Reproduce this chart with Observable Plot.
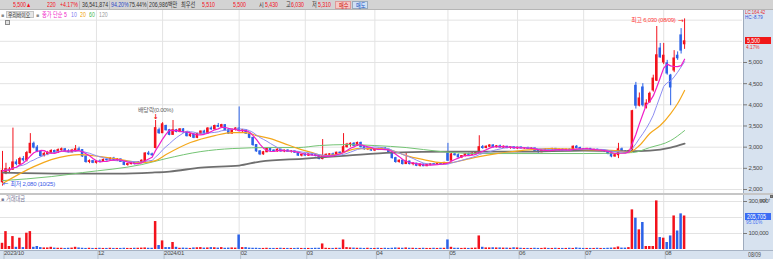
<!DOCTYPE html>
<html><head><meta charset="utf-8">
<script src="https://cdn.jsdelivr.net/npm/d3@7"></script>
<script src="https://cdn.jsdelivr.net/npm/@observablehq/plot@0.6"></script>
<style>
body{margin:0;background:#fff;}
#wrap{position:relative;width:773px;height:259px;overflow:hidden;background:#fff;font-family:'Liberation Sans','Noto Sans CJK KR',sans-serif;font-size:6.5px;}
.a{position:absolute;white-space:nowrap;line-height:8px;}
.s{display:inline-block;transform:scaleX(0.8);transform-origin:0 50%;}
#wrap svg text{letter-spacing:-0.25px;}
</style></head>
<body><div id="wrap"></div>
<script>
// ---- data ----
const opens = [2170,2380,2440,2470,2640,2600,2720,2690,2860,3080,
2990,2890,2790,2840,2860,2910,2870,2930,2950,2900,
2880,2900,2950,2930,2780,2650,2670,2630,2660,2650,
2700,2690,2730,2700,2710,2650,2580,2600,2630,2600,
2640,2660,2850,2830,2980,3400,3330,3500,3400,3290,
3400,3360,3420,3350,3260,3300,3220,3310,3370,3320,
3440,3420,3500,3480,3520,3400,3320,3410,3440,3380,
3400,3320,3220,3050,2900,2830,2880,2960,2920,2900,
2940,2900,2920,2890,2900,2870,2800,2820,2800,2830,
2810,2790,2720,2780,2820,2830,2810,2870,2860,3000,
3060,3080,3030,3100,3000,2950,2970,2920,2950,2940,
2970,2940,2870,2740,2650,2680,2600,2660,2600,2610,
2560,2590,2550,2580,2600,2590,2610,2600,2850,2680,
2830,2810,2760,2790,2830,2820,2850,2860,3000,2980,
3010,3040,3000,3020,2990,3010,2980,3000,2970,2990,
2970,2980,2960,2970,2910,2880,2920,2940,2930,2960,
2930,2940,2920,2940,2930,3010,2980,2950,2940,2960,
2930,2940,2910,2920,2900,2840,2780,2810,2950,2900,
2860,2910,4450,3980,4410,3930,4060,4340,4570,5330,
5000,4980,4690,4810,5160,5640,5430];
const highs = [2900,2620,2520,3450,2700,2760,2780,2900,3320,3120,
3040,2920,2880,2900,2940,2930,2960,2980,2970,2940,
2950,3040,3000,2940,2800,2700,2690,2680,2700,2720,
2740,2750,2760,2730,2720,2660,2620,2650,2640,2660,
2700,2870,2900,2860,3630,3450,3580,3520,3420,3630,
3420,3440,3440,3360,3320,3320,3330,3380,3400,3460,
3480,3520,3560,3540,3530,3420,3430,3460,3950,3420,
3410,3330,3230,3060,2920,2900,2980,2980,2940,2960,
2950,2930,2940,2920,2910,2880,2830,2850,2840,2850,
2830,2800,3180,2840,2850,2860,2880,2890,3320,3090,
3100,3110,3120,3120,3020,2990,2990,2970,2980,2990,
2990,2950,2880,2760,2700,2690,2860,2670,2630,2620,
2600,2600,2600,2610,2610,2620,2630,2640,3090,2860,
2870,2840,2800,2850,2860,2870,2880,3270,3040,3030,
3060,3060,3040,3050,3030,3020,3010,3010,3000,3010,
2990,3000,2990,2980,2920,2930,2960,2960,2970,2970,
2950,2960,2950,2960,3030,3040,3000,2970,2970,2970,
2950,2950,2940,2930,2910,2860,2830,3090,2980,2920,
2930,3870,4530,4280,4500,4120,4300,4700,5850,5450,
5450,5050,4720,5280,5250,5800,6030];
const lows = [2080,2350,2400,2450,2560,2560,2650,2650,2840,2960,
2870,2760,2770,2800,2840,2850,2850,2890,2880,2860,
2860,2880,2910,2760,2620,2610,2610,2600,2630,2640,
2670,2680,2680,2660,2640,2560,2550,2580,2580,2590,
2620,2640,2800,2780,2960,3300,3320,3380,3270,3280,
3340,3340,3330,3240,3230,3200,3200,3290,3300,3310,
3400,3410,3460,3440,3380,3300,3310,3380,3360,3330,
3300,3200,3020,2880,2800,2810,2870,2900,2880,2880,
2880,2870,2880,2860,2850,2780,2770,2790,2780,2790,
2770,2700,2700,2760,2790,2800,2800,2840,2850,2980,
3000,3010,3020,2980,2930,2920,2900,2900,2920,2930,
2920,2850,2720,2620,2620,2580,2590,2580,2560,2540,
2530,2540,2540,2560,2570,2570,2580,2590,2660,2670,
2790,2740,2730,2770,2800,2810,2830,2850,2950,2960,
2990,2980,2980,2980,2970,2960,2950,2950,2950,2960,
2950,2950,2940,2900,2860,2870,2900,2910,2920,2920,
2910,2910,2900,2920,2920,2960,2940,2920,2920,2920,
2900,2900,2890,2880,2820,2750,2760,2730,2880,2850,
2850,2890,3900,3950,3950,3900,4040,4300,4550,5100,
4950,4700,3980,4760,5050,5200,5310];
const closes = [2440,2480,2470,2640,2600,2720,2690,2860,3080,2990,
2890,2790,2840,2860,2910,2870,2930,2950,2900,2880,
2920,2950,2930,2780,2650,2670,2630,2660,2650,2700,
2690,2730,2700,2710,2650,2580,2600,2630,2600,2640,
2680,2850,2830,2810,3450,3330,3540,3400,3290,3400,
3360,3420,3350,3260,3300,3220,3310,3370,3320,3440,
3420,3500,3480,3520,3400,3320,3410,3440,3380,3400,
3320,3220,3050,2900,2830,2880,2960,2920,2900,2940,
2900,2920,2890,2900,2870,2800,2820,2800,2830,2810,
2790,2720,2780,2820,2830,2810,2870,2860,3000,3060,
3080,3030,3100,3000,2950,2970,2920,2950,2940,2970,
2940,2870,2740,2650,2680,2600,2660,2600,2610,2560,
2590,2550,2580,2600,2590,2610,2600,2630,2680,2830,
2810,2760,2790,2830,2820,2850,2860,3000,2980,3010,
3040,3000,3020,2990,3010,2980,3000,2970,2990,2970,
2980,2960,2970,2910,2880,2920,2940,2930,2960,2930,
2940,2920,2940,2930,3010,2980,2950,2940,2960,2930,
2940,2910,2920,2900,2840,2780,2810,2950,2900,2860,
2910,3850,3980,4150,3990,4030,4260,4620,5170,5120,
5160,4740,4410,5095,5100,5280,5500];
// 거래대금 (백만)
const volumes = [35000,108000,15000,77000,10000,67000,8000,98000,108000,10000,15000,8000,6000,6000,10000,
5000,4000,4000,3000,4000,5000,10000,6000,4000,3000,4000,3000,3000,4000,3000,3000,4000,3000,3000,3000,4000,3000,3000,4000,4000,5000,6000,4000,4000,
171000,21000,50000,8000,8000,40000,10000,
4000,5000,4000,3000,6000,7000,8000,5000,6000,8000,7000,5000,8000,4000,5000,6000,5000,
87000,8000,8000,
5000,4000,4000,3000,3000,4000,3000,3000,3000,4000,3000,3000,3000,3000,4000,3000,3000,3000,3000,4000,4000,
31000,
4000,3000,3000,4000,4000,
56000,
8000,6000,5000,4000,4000,3000,4000,3000,3000,4000,3000,4000,3000,4000,6000,5000,4000,6000,4000,4000,3000,3000,4000,3000,3000,4000,3000,4000,4000,
56000,
10000,4000,4000,3000,4000,3000,4000,5000,
81000,
10000,6000,6000,7000,6000,6000,5000,5000,4000,7000,6000,4000,3000,3000,3000,4000,3000,3000,5000,3000,3000,4000,3000,3000,3000,4000,3000,6000,4000,3000,3000,3000,3000,4000,3000,3000,4000,5000,6000,
12000,
5000,5000,8000,
244000,192000,119000,165000,15000,15000,15000,300000,71000,67000,40000,81000,206000,112000,219000,205705];
// moving averages read at sample days (20, 60, 120)
const ma20Idx = [0,9,14,19,22,28,34,40,44,47,54,61,66,70,73,77,81,85,89,92,96,102,109,112,116,121,126,129,133,137,142,149,157,167,176,180,183,186,189,192,194,196];
const ma20Val = [2140,2540,2707,2800,2825,2778,2707,2636,2683,2825,3109,3274,3345,3345,3274,3203,3085,2967,2872,2801,2825,2967,2967,2920,2801,2707,2636,2636,2707,2778,2849,2920,2967,2944,2920,2880,3038,3322,3511,3794,4031,4340];
const ma60Idx = [0,14,23,40,47,57,66,77,85,91,99,107,116,126,137,149,167,181,186,192,196];
const ma60Val = [2210,2305,2400,2589,2730,2896,2967,2991,2991,3038,3061,3038,2991,2896,2849,2849,2849,2872,2991,3156,3392];
const ma120Idx = [0,19,33,43,48,57,68,74,87,99,112,129,149,167,180,186,192,196];
const ma120Val = [2400,2376,2376,2400,2423,2518,2565,2660,2730,2801,2872,2896,2896,2920,2905,2920,2991,3085];
// ticks and labels
const monthIdx = [0,27,46,68,87,107,128,148,167,190];
const monthLabels = ["2023/10","12","2024/01","02","03","04","05","06","07","08"];
const priceTicks = [2000,2500,3000,3500,4000,4500,5000];
const priceGrid = [2000,2500,3000,3500,4000,4500,5000,5500,6000];
const volTicks = [100000,300000];
const volGrid = [100000,200000,300000];
const eventIdx = [44];
const eventLabels = ["배당락(0.00%)"];
const extremaLabels = ["최고 6,030 (08/09)","최저 2,080 (10/25)"];
const lastDate = "08/09";

[highs,lows,closes,volumes].forEach((a,k)=>{ if(a.length!==opens.length) throw new Error("length mismatch "+k+" "+a.length+" vs "+opens.length); });

const RED = "#f3121c", BLUE = "#2b62e8";
const FONT = "'Liberation Sans','Noto Sans CJK KR',sans-serif";
const days = opens.map((o,i)=>({i, open:o, high:highs[i], low:lows[i], close:closes[i], vol:volumes[i], up: closes[i] >= o}));
const pts = (idx, val) => idx.map((x,j)=>({x, y: val[j]}));
const XS = {type:"linear", domain:[-0.575, 212.64], axis:null};
const BW = 0.36;
const gridStyle = {stroke:"#e3e3e3", strokeOpacity:1};

const wrap = document.getElementById("wrap");
function div(css, html){ const d=document.createElement("div"); d.className="a"; d.style.cssText=css; if(html!==undefined) d.innerHTML=html; wrap.appendChild(d); return d; }
const sc = t => `<span class="s">${t}</span>`;

// backgrounds
div("left:743px;top:10px;width:30px;height:249px;background:#d7e2ef;border-left:1px solid #9eabbd;box-sizing:border-box;");
div("left:0;top:250px;width:773px;height:9px;background:#d7e2ef;border-top:1px solid #a7b3c4;box-sizing:border-box;");

const candles = (up) => [
  Plot.ruleX(days, {filter:d=>d.up===up, x:"i", y1:"low", y2:"high", stroke: up?RED:BLUE, strokeWidth:1}),
  Plot.rect(days, {filter:d=>d.up===up, x1:d=>d.i-BW, x2:d=>d.i+BW, y1:"open", y2:"close", fill: up?RED:BLUE, insetTop:-0.5, insetBottom:-0.5})
];
const hi = d3.maxIndex(highs), lo = d3.minIndex(lows);

const price = Plot.plot({
  width:773, height:184, marginLeft:0, marginRight:31, marginTop:0, marginBottom:0,
  style:{background:"transparent", overflow:"visible", fontFamily:FONT},
  x: XS,
  y: {domain:[1882, 6228], axis:null},
  marks:[
    Plot.gridY(priceGrid, gridStyle),
    Plot.gridX(monthIdx.slice(1), gridStyle),
    ...candles(true), ...candles(false),
    Plot.line(pts(ma120Idx, ma120Val), {x:"x", y:"y", curve:"monotone-x", stroke:"#6f6f6f", strokeWidth:1.8}),
    Plot.line(pts(ma60Idx, ma60Val), {x:"x", y:"y", curve:"monotone-x", stroke:"#74c474", strokeWidth:1}),
    Plot.line(pts(ma20Idx, ma20Val), {x:"x", y:"y", curve:"monotone-x", stroke:"#f4a81c", strokeWidth:1.2}),
    Plot.lineY(days, Plot.windowY({k:10, anchor:"end", reduce:"mean"}, {x:"i", y:"close", stroke:"#8e8ef2", strokeWidth:1})),
    Plot.lineY(days, Plot.windowY({k:5, anchor:"end", reduce:"mean"}, {x:"i", y:"close", stroke:"#f01ec8", strokeWidth:1.2})),
    Plot.text([days[hi]], {x:"i", y:"high", text:()=>extremaLabels[0], dx:-9, dy:1.5, textAnchor:"end", fill:"#ff3a3a", fontSize:6}),
    Plot.text([days[hi]], {x:"i", y:"high", text:()=>"→", dx:-1, dy:1.5, textAnchor:"end", fill:"#ff2020", fontSize:7, fontFamily:"DejaVu Sans"}),
    Plot.text([days[lo]], {x:"i", y:"low", text:()=>"←", dx:0, dy:-2.5, textAnchor:"start", fill:"#2f55e8", fontSize:7, fontFamily:"DejaVu Sans"}),
    Plot.text([days[lo]], {x:"i", y:"low", text:()=>extremaLabels[1], dx:8, dy:-2.5, textAnchor:"start", fill:"#3a5ae8", fontSize:6}),
    Plot.text(eventIdx.map((e,k)=>({...days[e], label:eventLabels[k]})), {x:"i", y:"high", text:"label", dy:-10, fill:"#666", fontSize:6}),
    Plot.text(eventIdx.map(e=>days[e]), {x:"i", y:"high", text:()=>"↓", dy:-3.5, fill:"#f01010", fontSize:7, fontWeight:"bold", fontFamily:"DejaVu Sans"}),
    Plot.axisY(priceTicks, {anchor:"right", tickFormat:d3.format(","), tickSize:4, tickPadding:2, fontSize:6, fill:"#4a4a4a", stroke:"#7a7a7a"})
  ]
});
const pDiv = div("left:0;top:10px;width:773px;height:184px;");
pDiv.appendChild(price);

const vol = Plot.plot({
  width:773, height:65, marginLeft:0, marginRight:31, marginTop:0, marginBottom:9,
  style:{background:"transparent", overflow:"visible", fontFamily:FONT},
  x: XS,
  y: {domain:[-6250, 343750], axis:null},
  marks:[
    Plot.gridY(volGrid, gridStyle),
    Plot.gridX(monthIdx.slice(1), gridStyle),
    Plot.rect(days, {filter:d=>d.up, x1:d=>d.i-BW, x2:d=>d.i+BW, y1:0, y2:"vol", fill:RED, insetTop:-0.6}),
    Plot.rect(days, {filter:d=>!d.up, x1:d=>d.i-BW, x2:d=>d.i+BW, y1:0, y2:"vol", fill:BLUE, insetTop:-0.6}),
    Plot.axisY(volTicks, {anchor:"right", tickFormat:d3.format(","), tickSize:4, tickPadding:2, fontSize:6, fill:"#4a4a4a", stroke:"#7a7a7a"}),
    Plot.axisX(monthIdx, {anchor:"bottom", tickFormat:(()=>{const m=new Map(monthIdx.map((v,k)=>[v,monthLabels[k]])); return d=>m.get(d);})(), tickSize:9, tickPadding:-8.5, textAnchor:"start", dx:1.5, fontSize:6, fill:"#4a4a4a", stroke:"#b4bfcc"})
  ]
});
const vDiv = div("left:0;top:194px;width:773px;height:65px;");
vDiv.appendChild(vol);

// separator between panels
div("left:0;top:193px;width:773px;height:2px;background:#c6c6c6;");

// top toolbar
div("left:0;top:0;width:773px;height:10px;background:#d3d3d3;border-bottom:1px solid #b5b5b5;box-sizing:border-box;");
const topItems = [
  [13,"5,500▲",RED],[47,"220",RED],[60,"+4.17%",RED],[82,"36,541,874","#333"],[111,"94.20%","#2a46c8"],[129,"75.44%","#333"],
  [149,"206,986백만","#333"],[181,"최우선","#333"],[202,"5,510",RED],[233,"5,500",RED],[259,"시","#333"],[265,"5,430",RED],
  [286,"고","#333"],[291,"6,030",RED],[312,"저","#333"],[318,"5,310",RED]
];
topItems.forEach(([x,t,c])=>div(`left:${x}px;top:1px;color:${c};`, sc(t)));
[79,109,147].forEach(x=>div(`left:${x}px;top:1px;width:1px;height:8px;background:#b8b8b8;`));
div("left:335px;top:1px;width:16px;height:8px;background:#f5c9c5;border:1px solid #d99;box-sizing:border-box;color:#d01010;line-height:7px;padding-left:2.5px;", sc("매수"));
div("left:352px;top:1px;width:16px;height:8px;background:#cfe0f6;border:1px solid #9ab;box-sizing:border-box;color:#2050c0;line-height:7px;padding-left:2.5px;", sc("매도"));

// legend row
div("left:1px;top:11px;color:#8a8a8a;font-size:5px;","■");
div("left:6px;top:11px;width:28px;height:7px;padding:0 1px;background:#e6e6e6;border:1px solid #c4c4c4;box-sizing:border-box;color:#333;line-height:6px;font-size:6px;", sc("우리바이오"));
div("left:36px;top:11px;color:#8a8a8a;font-size:5px;","■");
div("left:42px;top:10.5px;color:#f01ec8;", sc("종가 단순 5"));
div("left:71px;top:10.5px;color:#7b7bef;", sc("10"));
div("left:80px;top:10.5px;color:#f0a000;", sc("20"));
div("left:89px;top:10.5px;color:#48b848;", sc("60"));
div("left:99px;top:10.5px;color:#9a9a9a;", sc("120"));
div("left:5px;top:20px;width:5px;height:5px;border:1px solid #8a8a8a;background:#e2e2e2;box-sizing:border-box;");

// right panel labels
div("left:745px;top:9.5px;color:#e63030;font-size:5.5px;line-height:5.5px;", sc("LC:164.42"));
div("left:745px;top:15px;color:#3050d8;font-size:5.5px;line-height:5.5px;", sc("HC:-8.79"));
const py = 10 + price.scale("y").apply(closes[closes.length-1]);
div(`left:745px;top:${py-3.5}px;width:26px;height:7px;background:#f01818;color:#fff;line-height:7px;padding-left:1.5px;box-sizing:border-box;`, sc(d3.format(",")(closes[closes.length-1])));
div(`left:746px;top:${py+3}px;color:#f03030;font-size:6px;line-height:7px;`, sc("4.17%"));
const vy = 194 + vol.scale("y").apply(volumes[volumes.length-1]);
div(`left:745px;top:${vy-3.5}px;width:26px;height:7px;background:#3a6cf4;color:#fff;line-height:7px;padding-left:1.5px;box-sizing:border-box;`, sc(d3.format(",")(volumes[volumes.length-1])));
div(`left:746px;top:${vy+3}px;color:#4a74f0;font-size:6px;line-height:7px;`, sc("95.01%"));
div("left:770px;top:195px;width:3px;height:3px;background:#888;border:1px solid #666;box-sizing:border-box;");
div("left:1px;top:195px;color:#7a7a98;","<span style='font-size:5px'>■</span> "+sc("거래대금"));
div("left:748px;top:250.5px;color:#4a4a4a;line-height:8px;", sc(lastDate));
</script>
</body></html>
